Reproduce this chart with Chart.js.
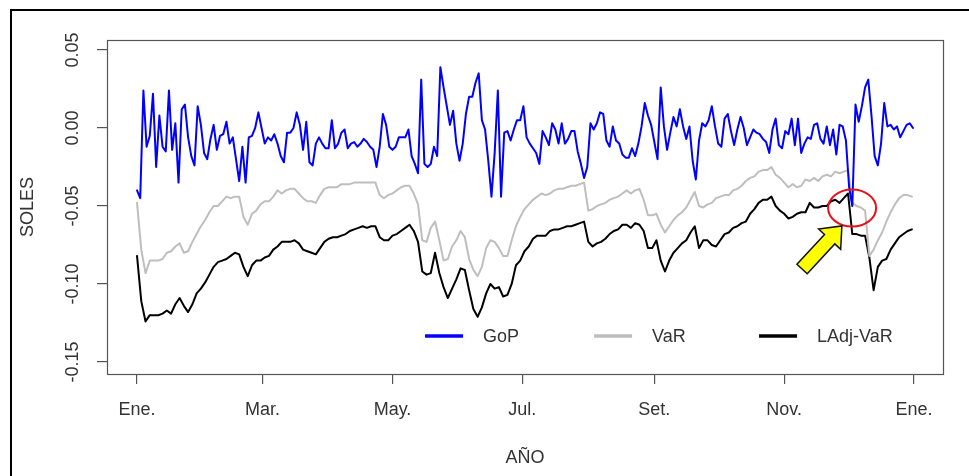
<!DOCTYPE html>
<html><head><meta charset="utf-8">
<script src="https://cdn.jsdelivr.net/npm/chart.js@4/dist/chart.umd.min.js"></script>
<style>
html,body{margin:0;padding:0;background:#fff;}
#wrap{position:relative;width:969px;height:476px;}
canvas{display:block;}
</style></head>
<body><div id="wrap"><canvas id="c" width="969" height="476"></canvas></div>
<script>
// ---- categories / ticks ----
const xTickDays = [0, 59, 120, 181, 243, 304, 365];
const xTickLabels = ['Ene.', 'Mar.', 'May.', 'Jul.', 'Set.', 'Nov.', 'Ene.'];
const yTickValues = [-0.15, -0.10, -0.05, 0.00, 0.05];
const yTickLabels = ['-0.15', '-0.10', '-0.05', '0.00', '0.05'];
const seriesNames = ['GoP', 'VaR', 'LAdj-VaR'];
const xTitle = 'AÑO';
const yTitle = 'SOLES';

// sampling step (calendar days) of each series
const gopStepDays = 1.5;
const varStepDays = 2;

// ---- series values (SOLES) ----
const gop = [
-0.040,-0.045,0.024,-0.012,-0.005,0.022,-0.025,0.008,-0.012,-0.015,
0.024,-0.014,0.003,-0.035,0.012,0.015,-0.006,-0.018,-0.024,0.014,
0.002,-0.016,-0.020,-0.007,0.002,-0.014,-0.005,-0.004,0.004,-0.010,
-0.006,-0.020,-0.034,-0.012,-0.035,-0.006,-0.005,0.000,0.010,0.000,
-0.010,-0.006,-0.008,-0.004,-0.010,-0.018,-0.022,-0.003,-0.003,0.000,
0.010,0.002,-0.014,0.004,-0.022,-0.024,-0.010,-0.006,-0.010,-0.013,
-0.013,0.005,-0.013,-0.010,-0.003,-0.001,-0.013,-0.010,-0.009,-0.012,
-0.010,-0.007,-0.009,-0.012,-0.014,-0.025,-0.012,0.009,0.002,-0.012,
-0.014,-0.012,-0.006,-0.006,-0.006,-0.001,-0.018,-0.023,-0.029,0.031,
-0.023,-0.025,-0.023,-0.012,-0.018,0.039,0.026,0.014,0.002,0.011,
-0.010,-0.021,-0.010,0.009,0.020,0.020,0.029,0.035,0.005,-0.001,
-0.021,-0.044,-0.016,0.024,-0.044,-0.003,-0.002,-0.008,-0.001,0.005,
0.005,0.014,-0.006,-0.010,-0.013,-0.016,-0.023,-0.002,-0.006,-0.011,
0.003,-0.001,-0.010,0.003,-0.010,-0.007,-0.002,-0.002,-0.015,-0.023,
-0.032,-0.025,0.003,-0.001,0.003,0.010,0.009,-0.008,-0.012,0.001,
-0.008,-0.010,-0.017,-0.019,-0.019,-0.013,-0.018,-0.010,0.001,0.016,
0.008,0.002,-0.009,-0.020,0.026,0.001,-0.014,-0.003,0.007,0.001,
0.012,0.001,-0.007,0.001,-0.021,-0.033,-0.008,0.003,0.001,0.005,
0.014,0.001,-0.010,-0.012,0.006,0.009,-0.002,-0.011,-0.001,0.007,
0.000,-0.011,-0.006,-0.001,-0.003,-0.004,-0.007,-0.009,-0.016,-0.001,
0.006,-0.011,-0.013,-0.002,-0.004,0.006,-0.011,0.006,-0.016,-0.010,
-0.006,-0.007,0.002,0.003,-0.007,-0.010,0.001,-0.011,-0.001,-0.017,
0.002,0.001,-0.008,-0.038,-0.050,0.015,0.004,0.014,0.026,0.031,
0.008,-0.018,-0.024,-0.010,0.016,0.001,0.002,-0.001,0.001,-0.006,
-0.002,0.002,0.003,0.000
];

const varSeries = [
-0.048,-0.078,-0.093,-0.085,-0.085,-0.085,-0.084,-0.080,-0.079,-0.076,
-0.074,-0.080,-0.079,-0.073,-0.068,-0.063,-0.059,-0.054,-0.050,-0.050,
-0.047,-0.044,-0.045,-0.044,-0.044,-0.057,-0.062,-0.055,-0.053,-0.049,
-0.047,-0.047,-0.044,-0.040,-0.042,-0.040,-0.039,-0.039,-0.042,-0.045,
-0.047,-0.047,-0.048,-0.043,-0.039,-0.038,-0.038,-0.038,-0.036,-0.036,
-0.036,-0.035,-0.035,-0.035,-0.035,-0.035,-0.035,-0.043,-0.045,-0.043,
-0.042,-0.040,-0.038,-0.037,-0.037,-0.042,-0.049,-0.072,-0.073,-0.064,
-0.060,-0.072,-0.085,-0.084,-0.076,-0.072,-0.066,-0.070,-0.084,-0.091,
-0.095,-0.089,-0.077,-0.072,-0.073,-0.077,-0.082,-0.082,-0.072,-0.063,
-0.057,-0.052,-0.049,-0.046,-0.044,-0.042,-0.043,-0.042,-0.040,-0.039,
-0.039,-0.038,-0.037,-0.037,-0.036,-0.035,-0.053,-0.052,-0.050,-0.049,
-0.048,-0.046,-0.045,-0.044,-0.042,-0.040,-0.042,-0.040,-0.039,-0.046,
-0.056,-0.056,-0.055,-0.062,-0.067,-0.063,-0.059,-0.056,-0.054,-0.051,
-0.046,-0.041,-0.050,-0.051,-0.049,-0.048,-0.045,-0.044,-0.043,-0.043,
-0.040,-0.039,-0.037,-0.034,-0.032,-0.031,-0.028,-0.027,-0.027,-0.025,
-0.030,-0.032,-0.035,-0.038,-0.036,-0.038,-0.037,-0.033,-0.034,-0.032,
-0.034,-0.031,-0.030,-0.031,-0.028,-0.029,-0.028,-0.027,-0.048,-0.050,
-0.051,-0.053,-0.082,-0.078,-0.072,-0.067,-0.060,-0.054,-0.049,-0.045,
-0.043,-0.043,-0.044
];

const ladjVar = [
-0.082,-0.111,-0.124,-0.120,-0.120,-0.120,-0.119,-0.117,-0.119,-0.113,
-0.109,-0.114,-0.118,-0.113,-0.106,-0.103,-0.099,-0.094,-0.089,-0.086,
-0.085,-0.084,-0.082,-0.080,-0.081,-0.089,-0.095,-0.088,-0.085,-0.085,
-0.083,-0.082,-0.078,-0.076,-0.073,-0.073,-0.073,-0.072,-0.074,-0.078,
-0.079,-0.080,-0.081,-0.077,-0.073,-0.071,-0.070,-0.070,-0.069,-0.068,
-0.066,-0.065,-0.064,-0.063,-0.064,-0.063,-0.063,-0.070,-0.072,-0.072,
-0.069,-0.068,-0.066,-0.064,-0.062,-0.066,-0.073,-0.092,-0.094,-0.093,
-0.080,-0.093,-0.102,-0.109,-0.103,-0.097,-0.090,-0.091,-0.104,-0.116,
-0.121,-0.115,-0.106,-0.100,-0.103,-0.102,-0.108,-0.107,-0.100,-0.088,
-0.085,-0.079,-0.076,-0.071,-0.069,-0.069,-0.069,-0.066,-0.065,-0.065,
-0.064,-0.063,-0.063,-0.062,-0.061,-0.060,-0.073,-0.076,-0.074,-0.073,
-0.071,-0.068,-0.066,-0.065,-0.062,-0.062,-0.064,-0.061,-0.062,-0.066,
-0.077,-0.077,-0.072,-0.085,-0.092,-0.085,-0.080,-0.077,-0.074,-0.072,
-0.067,-0.063,-0.077,-0.072,-0.072,-0.075,-0.076,-0.072,-0.068,-0.067,
-0.064,-0.063,-0.061,-0.060,-0.055,-0.052,-0.048,-0.046,-0.046,-0.044,
-0.050,-0.053,-0.055,-0.058,-0.057,-0.055,-0.054,-0.054,-0.048,-0.051,
-0.051,-0.050,-0.050,-0.047,-0.046,-0.048,-0.045,-0.042,-0.068,-0.068,
-0.069,-0.069,-0.083,-0.104,-0.089,-0.085,-0.084,-0.078,-0.074,-0.070,
-0.068,-0.066,-0.065
];

// ---- annotation / legend anchors (data units: day, SOLES) ----
const legendDays = [135.3, 214.7, 292.2];
const legendValue = -0.1333;
const circleAt = { day: 335.9, value: -0.0513 };
const arrowFrom = { day: 312.4, value: -0.0904 };
const arrowTo = { day: 331.1, value: -0.0628 };

const seriesColors = ['#0000FF', '#BEBEBE', '#000000'];
const FONT = "'Liberation Sans', Arial, Helvetica, sans-serif";
const TEXT = '#333333';
const AXIS = '#555555';

const toXY = (arr, step) => arr.map((v, i) => ({ x: i * step, y: v }));

const decorPlugin = {
  id: 'decor',
  afterDraw(chart) {
    const { ctx, chartArea: ca, scales: { x, y } } = chart;
    ctx.save();
    // plot box
    ctx.strokeStyle = AXIS; ctx.lineWidth = 1.2;
    ctx.strokeRect(ca.left + 0.5, ca.top + 0.5, ca.right - ca.left, ca.bottom - ca.top);
    // outer frame
    ctx.fillStyle = '#000';
    ctx.fillRect(10, 9, 959, 2);
    ctx.fillRect(10, 9, 2, 467);
    // legend
    const ly = y.getPixelForValue(legendValue);
    ctx.font = '18px ' + FONT; ctx.textBaseline = 'middle'; ctx.textAlign = 'left';
    seriesNames.forEach((name, i) => {
      const lx = x.getPixelForValue(legendDays[i]);
      ctx.strokeStyle = seriesColors[i]; ctx.lineWidth = 3.5; ctx.lineCap = 'butt';
      ctx.beginPath(); ctx.moveTo(lx, ly); ctx.lineTo(lx + 38, ly); ctx.stroke();
      ctx.fillStyle = TEXT; ctx.fillText(name, lx + 58, ly + 1);
    });
    // red circle
    const cx = x.getPixelForValue(circleAt.day), cy = y.getPixelForValue(circleAt.value);
    ctx.strokeStyle = '#E8101A'; ctx.lineWidth = 2;
    ctx.beginPath(); ctx.ellipse(cx, cy, 24, 18.5, 0, 0, Math.PI * 2); ctx.stroke();
    // yellow arrow
    const x0 = x.getPixelForValue(arrowFrom.day), y0 = y.getPixelForValue(arrowFrom.value);
    const x1 = x.getPixelForValue(arrowTo.day), y1 = y.getPixelForValue(arrowTo.value);
    const dx = x1 - x0, dy = y1 - y0, len = Math.hypot(dx, dy);
    const ux = dx / len, uy = dy / len, px = -uy, py = ux;
    const hl = 18, hw = 15, sw = 7;
    const bx = x1 - ux * hl, by = y1 - uy * hl;
    ctx.beginPath();
    ctx.moveTo(x0 + px * sw, y0 + py * sw);
    ctx.lineTo(bx + px * sw, by + py * sw);
    ctx.lineTo(bx + px * hw, by + py * hw);
    ctx.lineTo(x1, y1);
    ctx.lineTo(bx - px * hw, by - py * hw);
    ctx.lineTo(bx - px * sw, by - py * sw);
    ctx.lineTo(x0 - px * sw, y0 - py * sw);
    ctx.closePath();
    ctx.fillStyle = '#FFFF00'; ctx.fill();
    ctx.strokeStyle = '#111'; ctx.lineWidth = 1.5; ctx.lineJoin = 'miter'; ctx.stroke();
    ctx.restore();
  }
};

const lineStyle = { borderWidth: 2, pointRadius: 0, tension: 0, fill: false,
  borderJoinStyle: 'round', borderCapStyle: 'round' };

new Chart(document.getElementById('c'), {
  type: 'line',
  data: {
    datasets: [
      Object.assign({ label: seriesNames[0], data: toXY(gop, gopStepDays), borderColor: seriesColors[0] }, lineStyle),
      Object.assign({ label: seriesNames[1], data: toXY(varSeries, varStepDays), borderColor: seriesColors[1] }, lineStyle),
      Object.assign({ label: seriesNames[2], data: toXY(ladjVar, varStepDays), borderColor: seriesColors[2] }, lineStyle)
    ]
  },
  options: {
    responsive: false, animation: false, devicePixelRatio: 1,
    layout: { padding: { left: 0, top: 40, right: 26, bottom: 0 } },
    plugins: { legend: { display: false }, tooltip: { enabled: false } },
    events: [],
    scales: {
      x: {
        type: 'linear', min: -14.1, max: 378.6,
        afterBuildTicks: s => { s.ticks = xTickDays.map(v => ({ value: v })); },
        afterFit: s => { s.height = 102; },
        ticks: { callback: (v, i) => xTickLabels[i], autoSkip: false, maxRotation: 0, minRotation: 0,
          padding: 15, color: TEXT, font: { family: FONT, size: 18 } },
        grid: { drawOnChartArea: false, drawTicks: true, tickLength: 10, color: AXIS, lineWidth: 1.2 },
        border: { display: false },
        title: { display: true, text: xTitle, color: TEXT, font: { family: FONT, size: 18 },
          padding: { top: 0, bottom: 7 } }
      },
      y: {
        type: 'linear', min: -0.1577, max: 0.0564,
        afterBuildTicks: s => { s.ticks = yTickValues.map(v => ({ value: v })); },
        afterFit: s => { s.width = 107; },
        ticks: { callback: (v, i) => yTickLabels[i], autoSkip: false, minRotation: 90, maxRotation: 90,
          crossAlign: 'center', padding: 3, color: TEXT, font: { family: FONT, size: 18 } },
        grid: { drawOnChartArea: false, drawTicks: true, tickLength: 10, color: AXIS, lineWidth: 1.2 },
        border: { display: false },
        title: { display: true, text: yTitle, color: TEXT, font: { family: FONT, size: 18 },
          padding: { top: 17, bottom: 0 } }
      }
    }
  },
  plugins: [decorPlugin]
});
</script>
</body></html>
